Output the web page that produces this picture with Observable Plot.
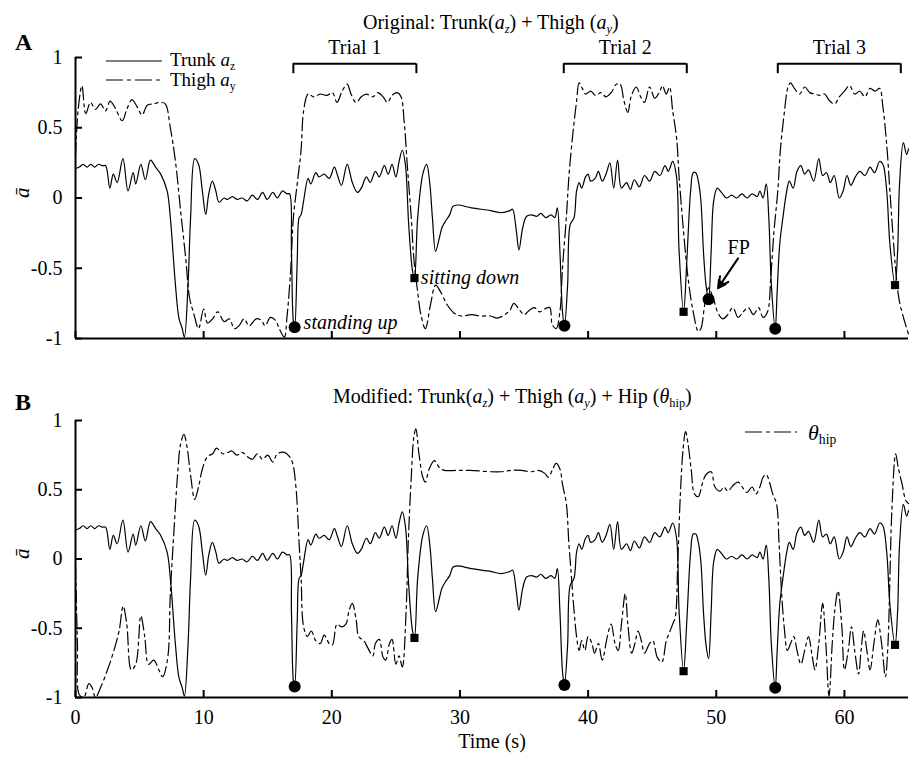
<!DOCTYPE html>
<html><head><meta charset="utf-8">
<script src="https://cdn.jsdelivr.net/npm/d3@7"></script>
<script src="https://cdn.jsdelivr.net/npm/@observablehq/plot@0.6"></script>
<style>
body{margin:0;background:#fff;font-family:"Liberation Serif","Times New Roman",serif;color:#000;}
#wrap{position:relative;width:910px;height:758px;overflow:hidden;}
#wrap svg, #wrap svg text{font-family:"Liberation Serif","Times New Roman",serif !important;}
.abs{position:absolute;white-space:nowrap;line-height:1;}
.sub{font-size:0.62em;position:relative;top:0.32em;}
.panel{position:absolute;left:0;}
</style></head><body>
<div id="wrap"></div>
<script>
// ---- Data (time in s, normalised value) ----
const xTicks = [0, 10, 20, 30, 40, 50, 60];
const yTicks = [-1, -0.5, 0, 0.5, 1];

const trunk = [
[0.0,0.21],[0.3,0.22],[0.6,0.24],[0.9,0.22],[1.2,0.24],[1.5,0.22],[1.8,0.24],[2.1,0.23],[2.35,0.23],
[2.68,0.07],[2.95,0.17],[3.25,0.11],[3.7,0.28],[4.1,0.05],[4.5,0.18],[4.7,0.10],[5.1,0.24],[5.45,0.13],
[5.85,0.27],[6.25,0.22],[6.65,0.17],[7.15,0.05],[7.4,-0.14],[7.8,-0.62],[8.07,-0.855],[8.33,-0.93],[8.5,-0.99],
[8.78,-0.62],[8.98,-0.14],[9.3,0.28],[9.6,0.24],[9.9,0.05],[10.16,-0.117],[10.4,0.03],[10.68,0.12],[10.95,0.05],
[11.2,-0.03],[11.6,0.0],[11.85,-0.01],[12.25,0.01],[12.6,-0.01],[13.0,0.0],[13.4,-0.02],[13.8,0.02],[14.2,-0.01],
[14.6,0.04],[14.95,-0.01],[15.4,0.04],[15.75,0.0],[16.15,0.05],[16.5,0.03],[16.7,0.03],[16.85,-0.38],[17.0,-0.88],
[17.1,-0.92],[17.3,-0.45],[17.45,-0.14],[17.6,-0.12],[17.8,-0.02],[18.15,0.14],[18.36,0.10],[18.75,0.18],[19.0,0.15],
[19.4,0.17],[19.8,0.14],[20.2,0.22],[20.45,0.16],[20.75,0.09],[21.2,0.24],[21.6,0.11],[22.0,0.04],[22.3,0.07],
[22.7,0.15],[23.0,0.11],[23.4,0.19],[23.7,0.15],[24.1,0.23],[24.4,0.17],[24.7,0.24],[25.0,0.15],[25.25,0.26],
[25.5,0.34],[25.75,0.23],[26.0,-0.19],[26.3,-0.52],[26.45,-0.57],[26.7,-0.14],[27.1,0.17],[27.4,0.24],[27.65,0.10],
[27.85,-0.14],[28.1,-0.38],[28.4,-0.28],[28.6,-0.21],[28.9,-0.16],[29.2,-0.12],[29.45,-0.06],[29.8,-0.05],[30.9,-0.07],
[32.4,-0.09],[33.2,-0.105],[33.9,-0.09],[34.1,-0.08],[34.4,-0.236],[34.6,-0.37],[34.9,-0.21],[35.2,-0.13],[35.6,-0.12],
[36.0,-0.13],[36.3,-0.11],[36.7,-0.14],[37.1,-0.12],[37.4,-0.14],[37.6,-0.07],[37.8,-0.38],[38.0,-0.81],[38.15,-0.91],
[38.4,-0.62],[38.6,-0.19],[38.9,-0.14],[39.1,0.05],[39.3,0.11],[39.5,0.07],[39.8,0.15],[40.0,0.17],[40.2,0.12],
[40.55,0.14],[40.8,0.19],[41.1,0.12],[41.4,0.17],[41.7,0.25],[42.0,0.07],[42.3,0.27],[42.6,0.07],[43.0,0.11],
[43.3,0.06],[43.6,0.13],[44.0,0.08],[44.4,0.16],[44.8,0.12],[45.2,0.19],[45.6,0.16],[46.0,0.23],[46.25,0.19],
[46.6,0.26],[46.9,0.15],[47.1,-0.38],[47.45,-0.81],[47.7,-0.45],[48.0,0.05],[48.2,0.18],[48.4,0.18],[48.6,0.12],
[48.8,-0.02],[49.0,-0.38],[49.2,-0.62],[49.4,-0.72],[49.6,-0.38],[49.8,-0.02],[50.08,0.07],[50.4,0.04],[50.8,0.0],
[51.2,0.02],[51.6,0.0],[52.0,0.03],[52.4,0.0],[52.8,0.03],[53.2,0.01],[53.4,0.05],[53.65,0.0],[53.9,0.10],
[54.1,-0.14],[54.3,-0.62],[54.6,-0.93],[54.75,-0.67],[54.95,-0.33],[55.2,-0.14],[55.5,0.05],[55.7,0.12],[56.0,0.07],
[56.3,0.19],[56.6,0.23],[56.9,0.17],[57.2,0.20],[57.6,0.12],[58.0,0.28],[58.3,0.16],[58.6,0.18],[58.9,0.11],
[59.2,0.16],[59.6,0.0],[59.9,0.05],[60.2,0.16],[60.5,0.09],[60.85,0.15],[61.2,0.19],[61.6,0.16],[62.0,0.22],
[62.35,0.18],[62.75,0.26],[63.0,0.24],[63.3,0.05],[63.55,-0.33],[63.95,-0.62],[64.15,-0.38],[64.3,0.10],[64.6,0.395],
[64.85,0.31],[65.0,0.35]
];

const thigh = [
[0.0,0.3],[0.2,0.62],[0.5,0.80],[0.8,0.60],[1.17,0.68],[1.56,0.63],[1.95,0.67],[2.34,0.62],[2.7,0.69],[3.1,0.64],
[3.65,0.55],[4.0,0.63],[4.4,0.70],[4.8,0.65],[5.2,0.59],[5.6,0.66],[6.1,0.67],[6.6,0.68],[7.0,0.67],[7.4,0.50],
[7.8,0.26],[8.2,-0.09],[8.6,-0.43],[8.9,-0.71],[9.25,-0.83],[9.6,-0.93],[10.0,-0.79],[10.3,-0.89],[10.7,-0.86],
[11.1,-0.81],[11.6,-0.88],[12.0,-0.86],[12.4,-0.93],[12.75,-0.91],[13.15,-0.86],[13.55,-0.91],[14.1,-0.86],[14.5,-0.87],
[14.8,-0.91],[15.2,-0.85],[15.6,-0.87],[15.9,-0.93],[16.3,-0.99],[16.5,-0.85],[16.8,-0.50],[17.0,-0.14],[17.3,0.10],
[17.6,0.34],[17.8,0.62],[18.15,0.74],[18.6,0.72],[19.1,0.74],[19.6,0.73],[20.05,0.75],[20.4,0.68],[20.8,0.76],
[21.2,0.81],[21.5,0.74],[21.9,0.68],[22.3,0.72],[22.7,0.74],[23.2,0.72],[23.6,0.75],[24.0,0.72],[24.35,0.68],
[24.7,0.73],[25.1,0.75],[25.4,0.72],[25.65,0.54],[25.9,0.22],[26.2,-0.14],[26.4,-0.43],[26.7,-0.67],[26.95,-0.83],
[27.3,-0.93],[27.7,-0.76],[28.1,-0.62],[28.5,-0.67],[29.0,-0.76],[29.55,-0.82],[30.1,-0.84],[30.9,-0.83],[31.6,-0.84],
[32.4,-0.84],[32.9,-0.855],[33.5,-0.83],[33.9,-0.80],[34.2,-0.75],[34.6,-0.79],[35.0,-0.83],[35.4,-0.80],[35.8,-0.78],
[36.2,-0.81],[36.6,-0.79],[37.0,-0.78],[37.2,-0.90],[37.5,-0.93],[37.8,-0.81],[38.0,-0.50],[38.3,-0.14],[38.5,0.15],
[38.8,0.45],[39.1,0.69],[39.3,0.82],[39.55,0.78],[39.8,0.74],[40.2,0.76],[40.6,0.73],[41.0,0.75],[41.4,0.72],
[41.8,0.75],[42.2,0.81],[42.5,0.81],[42.8,0.69],[43.1,0.61],[43.35,0.72],[43.75,0.79],[44.1,0.72],[44.4,0.68],
[44.8,0.79],[45.2,0.71],[45.6,0.76],[45.8,0.80],[46.1,0.74],[46.35,0.79],[46.6,0.62],[46.9,0.43],[47.1,0.15],
[47.4,-0.19],[47.8,-0.57],[48.2,-0.81],[48.6,-0.95],[48.8,-0.93],[49.1,-0.76],[49.4,-0.64],[49.75,-0.71],[50.1,-0.81],
[50.5,-0.86],[50.9,-0.83],[51.3,-0.78],[51.7,-0.85],[52.1,-0.81],[52.5,-0.78],[52.9,-0.83],[53.3,-0.78],[53.65,-0.85],
[54.0,-0.81],[54.25,-0.57],[54.5,-0.24],[54.8,0.05],[55.0,0.34],[55.3,0.60],[55.6,0.79],[55.8,0.82],[56.1,0.78],
[56.5,0.74],[56.9,0.79],[57.3,0.75],[57.7,0.74],[58.1,0.73],[58.45,0.74],[58.85,0.69],[59.25,0.67],[59.6,0.72],
[60.0,0.76],[60.4,0.80],[60.8,0.74],[61.2,0.76],[61.6,0.72],[62.0,0.78],[62.4,0.76],[62.75,0.78],[63.0,0.65],
[63.3,0.38],[63.55,0.05],[63.8,-0.28],[64.06,-0.57],[64.3,-0.74],[64.7,-0.88],[65.0,-0.97]
];

const hip = [
[0.0,-0.05],[0.15,-0.6],[0.3,-0.98],[0.65,-1.0],[1.04,-0.90],[1.3,-0.93],[1.56,-1.0],[1.95,-0.93],[2.5,-0.80],
[3.0,-0.66],[3.4,-0.52],[3.72,-0.34],[4.0,-0.47],[4.35,-0.80],[4.7,-0.76],[5.1,-0.41],[5.4,-0.56],[5.7,-0.76],
[6.1,-0.73],[6.5,-0.80],[6.8,-0.85],[7.2,-0.71],[7.4,-0.25],[7.7,0.23],[7.95,0.59],[8.2,0.83],[8.46,0.90],[8.7,0.81],
[9.0,0.59],[9.3,0.43],[9.6,0.52],[9.9,0.65],[10.3,0.74],[10.7,0.76],[11.0,0.80],[11.5,0.76],[11.9,0.77],[12.2,0.78],
[12.6,0.75],[13.0,0.77],[13.4,0.74],[13.8,0.72],[14.2,0.76],[14.6,0.72],[15.0,0.75],[15.4,0.70],[15.75,0.76],
[16.3,0.77],[16.7,0.74],[16.95,0.69],[17.2,0.52],[17.45,0.11],[17.6,-0.13],[17.8,-0.49],[18.1,-0.56],[18.4,-0.52],
[18.75,-0.59],[19.1,-0.61],[19.4,-0.55],[19.8,-0.61],[20.05,-0.62],[20.4,-0.47],[20.75,-0.49],[21.1,-0.47],
[21.35,-0.37],[21.6,-0.32],[21.9,-0.44],[22.1,-0.56],[22.5,-0.59],[22.8,-0.64],[23.2,-0.70],[23.4,-0.61],
[23.7,-0.58],[24.0,-0.71],[24.2,-0.73],[24.5,-0.61],[24.7,-0.58],[25.0,-0.76],[25.25,-0.70],[25.5,-0.78],
[25.8,-0.37],[25.96,0.11],[26.2,0.59],[26.4,0.88],[26.56,0.94],[26.8,0.76],[27.1,0.59],[27.3,0.555],[27.6,0.65],
[28.0,0.71],[28.4,0.66],[28.8,0.64],[29.8,0.64],[30.8,0.64],[32.4,0.63],[33.2,0.63],[34.0,0.64],[34.8,0.64],
[35.6,0.63],[36.1,0.64],[36.6,0.62],[36.9,0.59],[37.2,0.64],[37.5,0.69],[37.8,0.65],[38.0,0.54],[38.3,0.40],
[38.5,0.11],[38.7,-0.13],[38.9,-0.37],[39.1,-0.56],[39.3,-0.66],[39.5,-0.59],[39.75,-0.66],[40.0,-0.56],[40.3,-0.61],
[40.5,-0.68],[40.8,-0.61],[41.1,-0.73],[41.5,-0.56],[41.8,-0.47],[42.1,-0.61],[42.35,-0.66],[42.6,-0.47],[42.9,-0.25],
[43.1,-0.47],[43.4,-0.68],[43.65,-0.61],[43.9,-0.52],[44.15,-0.59],[44.4,-0.68],[44.8,-0.61],[45.05,-0.59],
[45.4,-0.71],[45.75,-0.745],[46.1,-0.59],[46.35,-0.53],[46.6,-0.47],[46.8,-0.42],[47.0,-0.01],[47.2,0.47],[47.4,0.78],
[47.6,0.92],[47.8,0.83],[48.05,0.64],[48.3,0.47],[48.6,0.45],[48.9,0.54],[49.2,0.61],[49.6,0.63],[49.9,0.52],
[50.3,0.49],[50.6,0.52],[50.9,0.49],[51.3,0.53],[51.7,0.555],[52.1,0.51],[52.4,0.48],[52.8,0.52],[53.1,0.47],
[53.4,0.52],[53.65,0.59],[53.9,0.61],[54.2,0.54],[54.4,0.47],[54.7,0.40],[54.9,0.11],[55.1,-0.25],[55.3,-0.49],
[55.55,-0.66],[55.8,-0.61],[56.05,-0.56],[56.3,-0.66],[56.6,-0.76],[56.9,-0.66],[57.2,-0.56],[57.45,-0.68],
[57.7,-0.80],[58.0,-0.61],[58.3,-0.32],[58.55,-0.61],[58.8,-0.99],[59.05,-0.61],[59.25,-0.37],[59.5,-0.23],
[59.8,-0.49],[60.0,-0.80],[60.3,-0.66],[60.55,-0.49],[60.8,-0.66],[61.1,-0.83],[61.3,-0.66],[61.5,-0.52],
[61.75,-0.66],[62.0,-0.80],[62.3,-0.61],[62.6,-0.44],[62.9,-0.61],[63.2,-0.85],[63.4,-0.61],[63.55,-0.13],
[63.7,0.35],[64.0,0.76],[64.2,0.66],[64.5,0.54],[64.8,0.42],[65.0,0.40]
];

// detected events
const standUps = [
  {t: 17.1, a: -0.92, fp: false},
  {t: 38.15, a: -0.91, fp: false},
  {t: 49.4, a: -0.72, fp: true},
  {t: 54.6, a: -0.93, fp: false}
];
const sitDowns = [
  {t: 26.45, a: -0.57},
  {t: 47.45, a: -0.81},
  {t: 63.95, a: -0.62}
];
const trials = [
  {name: "Trial 1", start: 17.0, end: 26.6},
  {name: "Trial 2", start: 38.1, end: 47.7},
  {name: "Trial 3", start: 54.8, end: 64.4}
];
const notes = [
  {t: 17.8, a: -0.886, text: "standing up"},
  {t: 26.95, a: -0.564, text: "sitting down"}
];
const fpNote = {t: 51.75, a: -0.355, text: "FP", t1: 51.7, a1: -0.43, t2: 50.15, a2: -0.64};

(function () {
const FONT = '"Liberation Serif","Times New Roman",serif';
const DASH = "13,4,3,4";
const wrap = document.getElementById("wrap");

function basePanel({height, marginTop, marginBottom, xLabels, extra}) {
  return Plot.plot({
    width: 910, height, marginLeft: 75, marginRight: 2, marginTop, marginBottom,
    style: {fontFamily: FONT, fontSize: "20px", color: "#000", background: "transparent", overflow: "visible"},
    x: {domain: [0, 65]},
    y: {domain: [-1, 1]},
    marks: [
      Plot.axisY(yTicks, {tickSize: -7, tickPadding: 20, strokeWidth: 2, tickFormat: d => String(d), label: null, fontFamily: FONT}),
      Plot.axisX(xTicks, {tickSize: -7, tickPadding: 19, strokeWidth: 2, tickFormat: xLabels ? (d => String(d)) : (() => ""), label: null, fontFamily: FONT}),
      Plot.ruleX([0], {strokeWidth: 2}),
      Plot.ruleY([-1], {strokeWidth: 2}),
      Plot.text(["a\u0304"], {frameAnchor: "left", dx: -53, rotate: -90, fontStyle: "italic", fontSize: 21, fontFamily: FONT}),
      Plot.line(trunk, {x: d => d[0], y: d => d[1], curve: "catmull-rom", stroke: "#000", strokeWidth: 1.2}),
      ...extra
    ]
  });
}

const topPlot = basePanel({
  height: 360, marginTop: 57, marginBottom: 22, xLabels: false,
  extra: [
    Plot.line(thigh, {x: d => d[0], y: d => d[1], curve: "catmull-rom", stroke: "#000", strokeWidth: 1.2, strokeDasharray: DASH}),
    Plot.ruleY(trials, {x1: "start", x2: "end", y: () => 0.955, strokeWidth: 2}),
    Plot.ruleX(trials.flatMap(d => [d.start, d.end]), {x: d => d, y1: 0.885, y2: 0.955, strokeWidth: 2}),
    Plot.text(trials, {x: d => (d.start + d.end) / 2, y: () => 1.07, text: "name", fontFamily: FONT}),
    Plot.dot(standUps, {x: "t", y: "a", r: 6, fill: "#000", stroke: "none"}),
    Plot.dot(sitDowns, {x: "t", y: "a", r: 4.6, symbol: "square", fill: "#000", stroke: "none"}),
    Plot.text(notes, {x: "t", y: "a", text: "text", textAnchor: "start", fontStyle: "italic", fontFamily: FONT}),
    Plot.text([fpNote], {x: "t", y: "a", text: "text", fontFamily: FONT}),
    Plot.arrow([fpNote], {x1: "t1", y1: "a1", x2: "t2", y2: "a2", strokeWidth: 2, headLength: 9, headAngle: 50, stroke: "#000"}),
    Plot.dot([fpNote], {x: "t2", y: "a2", symbol: "triangle", r: 4, rotate: -146, dx: 2.5, dy: -3.5, fill: "#000", stroke: "none"})
  ]
});
topPlot.classList.add("panel");
topPlot.style.top = "0px";
wrap.appendChild(topPlot);

const bottomPlot = basePanel({
  height: 398, marginTop: 60, marginBottom: 61, xLabels: true,
  extra: [
    Plot.line(hip, {x: d => d[0], y: d => d[1], curve: "catmull-rom", stroke: "#000", strokeWidth: 1.2, strokeDasharray: DASH}),
    Plot.dot(standUps.filter(d => !d.fp), {x: "t", y: "a", r: 6, fill: "#000", stroke: "none"}),
    Plot.dot(sitDowns, {x: "t", y: "a", r: 4.6, symbol: "square", fill: "#000", stroke: "none"}),
    Plot.text(["Time (s)"], {frameAnchor: "bottom", dy: 50, fontFamily: FONT})
  ]
});
bottomPlot.classList.add("panel");
bottomPlot.style.top = "360px";
wrap.appendChild(bottomPlot);

// ---- Titles, panel letters, legends (HTML text) ----
function place(html, left, baseline, fs, style = "") {
  const d = document.createElement("div");
  d.className = "abs";
  d.style.left = left + "px";
  d.style.top = (baseline - 0.8375 * fs) + "px";
  d.style.fontSize = fs + "px";
  d.style.cssText += style;
  d.innerHTML = html;
  wrap.appendChild(d);
  return d;
}
function swatch(left, y, w, dashed) {
  const ns = "http://www.w3.org/2000/svg";
  const s = document.createElementNS(ns, "svg");
  s.setAttribute("width", w); s.setAttribute("height", 6);
  s.style.position = "absolute"; s.style.left = left + "px"; s.style.top = (y - 3) + "px";
  const l = document.createElementNS(ns, "line");
  l.setAttribute("x1", 0); l.setAttribute("x2", w); l.setAttribute("y1", 3); l.setAttribute("y2", 3);
  l.setAttribute("stroke", "#000"); l.setAttribute("stroke-width", 1.2);
  if (dashed) l.setAttribute("stroke-dasharray", "17,4,4,4");
  s.appendChild(l);
  wrap.appendChild(s);
}
const ai = '<i>a</i>';
place("A", 15, 50, 24, "font-weight:bold;");
place("B", 15, 410, 24, "font-weight:bold;");
place(`Original: Trunk(${ai}<span class="sub"><i>z</i></span>) + Thigh (${ai}<span class="sub"><i>y</i></span>)`, 363, 29, 20);
place(`Modified: Trunk(${ai}<span class="sub"><i>z</i></span>) + Thigh (${ai}<span class="sub"><i>y</i></span>) + Hip (<i>θ</i><span class="sub">hip</span>)`, 333, 403, 20);
swatch(106, 61, 56, false);
place(`Trunk ${ai}<span class="sub">z</span>`, 170, 67, 19, "line-height:0.9;");
swatch(106, 80, 56, true);
place(`Thigh ${ai}<span class="sub">y</span>`, 170, 87, 19, "line-height:0.9;");
swatch(745, 432, 52, true);
place(`<i>θ</i><span class="sub">hip</span>`, 808, 440, 22);
})();
</script>
</body></html>
